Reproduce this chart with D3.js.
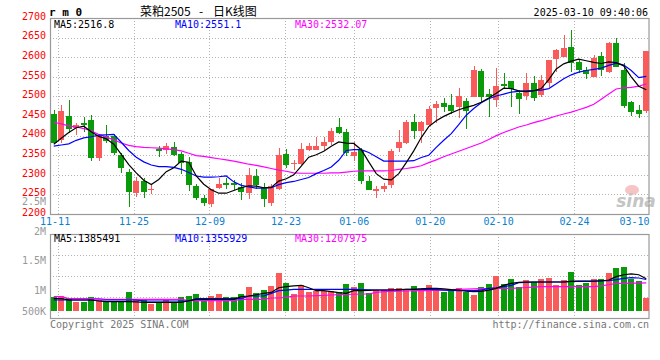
<!DOCTYPE html>
<html><head><meta charset="utf-8">
<script src="https://cdn.jsdelivr.net/npm/d3@7"></script>
<style>body{margin:0;background:#fff}svg{display:block}</style>
</head><body><svg id="c" width="660" height="360"></svg>
<script>
const dates = ["11-08","11-11","11-12","11-13","11-14","11-15","11-18","11-19","11-20","11-21","11-22",
"11-25","11-26","11-27","11-28","11-29","12-02","12-03","12-04","12-05","12-06",
"12-09","12-10","12-11","12-12","12-13","12-16","12-17","12-18","12-19","12-20",
"12-23","12-24","12-25","12-26","12-27","12-30","12-31","01-02","01-03",
"01-06","01-07","01-08","01-09","01-10","01-13","01-14","01-15","01-16","01-17",
"01-20","01-21","01-22","01-23","01-24","01-27","02-05","02-06","02-07",
"02-10","02-11","02-12","02-13","02-14","02-17","02-18","02-19","02-20","02-21",
"02-24","02-25","02-26","02-27","02-28","03-03","03-04","03-05","03-06","03-07","03-10"];
const open  = [2455,2389,2450,2420,2432,2440,2344,2398,2399,2350,2307,2254,2285,2261,2367,2363,2370,2352,2333,2271,2241,2225,2266,2280,2278,2268,2254,2297,2270,2227,2263,2353,2327,2327,2362,2364,2373,2384,2421,2408,2348,2363,2285,2259,2263,2274,2368,2380,2434,2412,2427,2471,2483,2478,2474,2488,2499,2565,2505,2491,2531,2539,2508,2500,2533,2503,2533,2595,2601,2627,2587,2567,2550,2604,2561,2637,2567,2485,2465,2463];
const high  = [2465,2478,2491,2432,2448,2452,2404,2427,2405,2356,2314,2295,2291,2276,2373,2380,2384,2358,2345,2277,2248,2264,2291,2293,2288,2278,2317,2316,2278,2277,2368,2367,2337,2382,2382,2397,2396,2419,2444,2418,2384,2369,2297,2271,2279,2365,2414,2441,2454,2436,2475,2487,2495,2507,2522,2495,2578,2569,2519,2573,2559,2540,2516,2560,2552,2555,2594,2621,2657,2669,2592,2575,2606,2612,2640,2650,2584,2487,2478,2616];
const low   = [2378,2382,2406,2402,2410,2335,2334,2380,2350,2305,2219,2244,2242,2251,2346,2353,2349,2302,2258,2235,2220,2217,2264,2264,2262,2236,2239,2264,2219,2221,2261,2317,2312,2326,2360,2362,2363,2376,2405,2348,2336,2276,2260,2241,2257,2266,2359,2378,2391,2381,2425,2431,2459,2456,2446,2417,2498,2485,2448,2474,2519,2474,2456,2490,2488,2498,2525,2563,2600,2561,2560,2544,2549,2552,2560,2575,2471,2451,2446,2457];
const close = [2381,2463,2418,2428,2430,2342,2399,2387,2356,2317,2255,2285,2257,2264,2360,2373,2351,2331,2274,2240,2228,2263,2276,2275,2274,2257,2300,2273,2238,2271,2350,2325,2331,2366,2374,2373,2384,2412,2406,2356,2359,2285,2262,2263,2271,2360,2384,2434,2413,2434,2469,2481,2474,2463,2500,2464,2567,2499,2498,2527,2527,2519,2494,2533,2497,2542,2593,2618,2624,2584,2568,2556,2599,2567,2637,2576,2476,2461,2456,2615];
const volume = [602000,624000,538000,366000,400000,589000,473000,387000,387000,387000,817000,495000,473000,301000,357000,460000,331000,589000,645000,731000,546000,645000,731000,589000,589000,731000,1045000,787000,903000,1075000,1647000,1217000,731000,1105000,830000,873000,860000,860000,796000,1161000,1045000,1217000,774000,882000,882000,998000,998000,946000,1075000,989000,1118000,933000,817000,903000,989000,817000,688000,1032000,1161000,1505000,1161000,1376000,1032000,1333000,1247000,1376000,1419000,1118000,1333000,1677000,1118000,1204000,1376000,1376000,1634000,1849000,1892000,1376000,1290000,559000];
const ma5  = [2378,2393,2408,2420,2424,2410,2398,2392,2378,2352,2326,2305,2286,2275,2288,2308,2318,2335,2332,2297,2276,2262,2253,2253,2260,2267,2272,2271,2267,2268,2284,2290,2300,2322,2345,2351,2360,2373,2384,2381,2380,2364,2333,2303,2289,2287,2303,2331,2361,2395,2423,2438,2449,2458,2466,2472,2477,2485,2496,2508,2521,2520,2514,2512,2514,2520,2543,2570,2583,2590,2595,2591,2587,2584,2588,2586,2578,2550,2526,2516.8];
const ma10 = [2373,2376,2379,2388,2394,2397,2401,2402,2403,2383,2362,2345,2333,2325,2321,2321,2319,2314,2306,2297,2294,2294,2295,2297,2282,2273,2269,2266,2266,2267,2275,2280,2283,2288,2293,2303,2311,2320,2337,2362,2364,2364,2357,2346,2335,2335,2335,2335,2336,2344,2350,2370,2388,2405,2428,2452,2469,2484,2494,2501,2506,2511,2513,2514,2515,2516,2520,2532,2545,2555,2562,2566,2569,2572,2579,2585,2580,2566,2548,2551.1];
const ma30 = [2434,2430,2425,2422,2418,2412,2403,2396,2389,2381,2375,2372,2370,2369,2368,2366,2364,2361,2355,2349,2347,2344,2341,2338,2335,2331,2327,2324,2320,2316,2312,2309,2305,2304,2304,2304,2304,2305,2305,2307,2309,2310,2310,2310,2310,2311,2314,2316,2319,2323,2331,2338,2346,2353,2360,2367,2374,2381,2390,2400,2408,2415,2422,2427,2433,2438,2444,2450,2455,2460,2466,2472,2480,2493,2506,2519,2522,2523,2526,2532.07];
const vma5  = [529000,529000,480000,473000,473000,473000,430000,400000,400000,400000,400000,390000,374000,374000,374000,374000,374000,374000,440000,503000,503000,503000,503000,503000,503000,620000,645000,700000,761000,800000,1000000,1045000,1080000,1105000,1000000,873000,873000,830000,790000,761000,873000,880000,890000,903000,903000,903000,915000,930000,933000,950000,976000,976000,950000,920000,903000,850000,830000,847000,900000,976000,1100000,1191000,1230000,1247000,1247000,1247000,1247000,1247000,1247000,1270000,1290000,1290000,1290000,1290000,1333000,1480000,1560000,1600000,1560000,1385491];
const vma10 = [473000,473000,473000,473000,473000,473000,473000,473000,473000,473000,473000,473000,430000,430000,430000,430000,430000,430000,430000,529000,529000,529000,529000,529000,529000,529000,645000,645000,645000,760000,873000,900000,933000,933000,933000,933000,933000,933000,933000,933000,933000,920000,910000,903000,903000,903000,903000,933000,933000,933000,933000,920000,900000,890000,880000,873000,873000,900000,976000,1000000,1045000,1100000,1217000,1230000,1247000,1247000,1247000,1247000,1247000,1270000,1270000,1270000,1270000,1303000,1303000,1350000,1406000,1432000,1420000,1355929];
const vma30 = [615000,615000,529000,529000,529000,529000,529000,503000,503000,503000,503000,503000,503000,503000,503000,503000,503000,503000,443000,443000,443000,443000,443000,443000,443000,503000,503000,503000,503000,560000,560000,589000,645000,645000,645000,660000,670000,688000,700000,710000,720000,731000,731000,800000,830000,840000,850000,860000,873000,873000,880000,900000,910000,920000,933000,940000,950000,959000,965000,970000,976000,976000,990000,1010000,1030000,1045000,1045000,1045000,1045000,1045000,1045000,1045000,1045000,1080000,1130000,1191000,1191000,1195000,1200000,1207975];
const priceTicks = [2200,2250,2300,2350,2400,2450,2500,2550,2600,2650,2700];
const dateTicks = ["11-11","11-25","12-09","12-23","01-06","01-20","02-10","02-24","03-10"];
const volTickValues = [500000,1000000,1500000,2000000,2500000];
const volTickLabels = ["500K","1M","1.5M","2M","2.5M"];

const svg = d3.select("#c");
const MONO = "'DejaVu Sans Mono', monospace";
const CJK = "'Noto Sans CJK SC', sans-serif";
const RED = "#f95a5a", GREEN = "#0a9a0a";
const L = 50, R = 650, T = 18, B = 214, VT = 234, VB = 318, VBASE = 311;
const n = dates.length;
const x = d3.scaleBand().domain(d3.range(n)).range([L, R]).paddingInner(0.2).paddingOuter(0.1);
const cx = i => x(i) + x.bandwidth() / 2;
const xg = d3.scaleLinear().domain([0, n - 1]).range([L, R]);
const y = d3.scaleLinear().domain([2200, 2700]).range([B, T]);
const yv = d3.scaleLinear().domain([0, 3311000]).range([VBASE, VT]);
const yvGrid = d3.scaleLinear().domain([0, 4]).range([VB, VT]);
const yvLab = d3.scaleLinear().domain([1000000, 2500000]).range([290.7, 201.2]);
const tickIdx = dateTicks.map(d => dates.indexOf(d));

const grid = svg.append("g").attr("stroke", "#b4b4b4").attr("stroke-dasharray", "1,2").attr("stroke-width", 1);
priceTicks.slice(1, -1).forEach(p => {
  grid.append("line").attr("x1", L).attr("x2", R).attr("y1", Math.round(y(p)) + 0.5).attr("y2", Math.round(y(p)) + 0.5);
});
[1, 2, 3].forEach(k => {
  grid.append("line").attr("x1", L).attr("x2", R).attr("y1", Math.round(yvGrid(k)) + 0.5).attr("y2", Math.round(yvGrid(k)) + 0.5);
});
tickIdx.slice(0, -1).forEach(i => {
  const gx = Math.round(xg(i)) + 0.5;
  grid.append("line").attr("x1", gx).attr("x2", gx).attr("y1", T).attr("y2", B);
  grid.append("line").attr("x1", gx).attr("x2", gx).attr("y1", VT).attr("y2", VB);
});

// sina watermark
const wm = svg.append("g");
wm.append("ellipse").attr("cx", 632).attr("cy", 190).attr("rx", 7).attr("ry", 5).attr("fill", "#f6c4c4");
wm.append("text").attr("x", 636).attr("y", 207).attr("text-anchor", "middle")
  .attr("font-family", "'DejaVu Sans', sans-serif").attr("font-size", 17).attr("font-weight", "bold")
  .attr("font-style", "italic").attr("fill", "#c4c4c4").text("sina");

// frames
const frame = svg.append("g").attr("fill", "none").attr("stroke", "#999").attr("stroke-width", 1.2);
frame.append("rect").attr("x", L + 0.5).attr("y", T + 0.5).attr("width", R - L - 1.5).attr("height", B - T);
frame.append("rect").attr("x", L + 0.5).attr("y", VT + 0.5).attr("width", R - L - 1.5).attr("height", VB - VT);

// candles
const idx = d3.range(n);
const cg = svg.append("g").attr("shape-rendering", "crispEdges");
cg.selectAll("line.w").data(idx).join("line")
  .attr("x1", i => Math.round(cx(i)) + 0.5).attr("x2", i => Math.round(cx(i)) + 0.5)
  .attr("y1", i => y(high[i])).attr("y2", i => y(low[i]))
  .attr("stroke", i => close[i] >= open[i] ? RED : GREEN);
cg.selectAll("rect.b").data(idx).join("rect")
  .attr("x", i => Math.round(x(i))).attr("width", Math.round(x.bandwidth()))
  .attr("y", i => y(Math.max(open[i], close[i])))
  .attr("height", i => Math.max(1.5, Math.abs(y(open[i]) - y(close[i]))))
  .attr("fill", i => close[i] >= open[i] ? RED : GREEN);

const line = arr => d3.line().x((d, i) => cx(i)).y(d => y(d))(arr);
[[ma30, "#ff00ff"], [ma10, "#0000ff"], [ma5, "#000"]].forEach(([a, c]) => {
  svg.append("path").attr("d", line(a)).attr("fill", "none").attr("stroke", c).attr("stroke-width", 1.2);
});

// volume
const vg = svg.append("g").attr("shape-rendering", "crispEdges");
vg.selectAll("rect").data(idx).join("rect")
  .attr("x", i => Math.round(x(i))).attr("width", Math.round(x.bandwidth()))
  .attr("y", i => yv(volume[i])).attr("height", i => VBASE - yv(volume[i]))
  .attr("fill", i => close[i] >= open[i] ? RED : GREEN);
const vline = arr => d3.line().x((d, i) => cx(i)).y(d => yv(d))(arr);
[[vma30, "#ff00ff"], [vma10, "#0000ff"], [vma5, "#000"]].forEach(([a, c]) => {
  svg.append("path").attr("d", vline(a)).attr("fill", "none").attr("stroke", c).attr("stroke-width", 1.2);
});

// price axis
const ya = svg.append("g").attr("transform", `translate(${L - 1},0)`)
  .call(d3.axisLeft(y).tickValues(priceTicks).tickSize(0).tickPadding(3).tickFormat(d3.format("d")));
ya.select(".domain").remove();
ya.selectAll("text").attr("fill", "#f00").attr("font-family", MONO).attr("font-size", 10).attr("dy", "0.12em");

// date axis
const xa = svg.append("g").attr("transform", `translate(0,${B})`)
  .call(d3.axisBottom(xg).tickValues(tickIdx).tickSize(0).tickPadding(4).tickFormat(i => dates[i]));
xa.select(".domain").remove();
xa.selectAll("text").attr("fill", "#0a80d0").attr("font-family", MONO).attr("font-size", 10);
xa.selectAll("text").filter((d, k) => k === 0).attr("x", -3);
xa.selectAll("text").filter((d, k) => k === tickIdx.length - 1).attr("text-anchor", "end").attr("x", -1);

// volume axis labels
svg.append("g").selectAll("text").data(volTickValues).join("text")
  .attr("x", L - 4).attr("y", d => Math.min(yvLab(d), VBASE)).attr("dy", "0.35em")
  .attr("text-anchor", "end").attr("font-family", MONO).attr("font-size", 10).attr("fill", "#999")
  .text((d, k) => volTickLabels[k]);

// legends
const legend = (yy, items) => items.forEach(([tx, xx, c]) => {
  svg.append("text").attr("x", xx).attr("y", yy).attr("font-family", MONO).attr("font-size", 10).attr("fill", c).text(tx);
});
legend(27.5, [["MA5:" + ma5[n - 1], 54, "#000"], ["MA10:" + ma10[n - 1], 175, "#0000ff"], ["MA30:" + ma30[n - 1], 295, "#ff00ff"]]);
legend(242, [["MA5:" + vma5[n - 1], 54, "#000"], ["MA10:" + vma10[n - 1], 175, "#0000ff"], ["MA30:" + vma30[n - 1], 295, "#ff00ff"]]);

// header
svg.append("text").attr("x", 49).attr("y", 16).attr("font-family", MONO).attr("font-size", 11)
  .attr("font-weight", "bold").attr("fill", "#000").text("r m 0");
const title = svg.append("text").attr("y", 16).attr("font-family", CJK).attr("font-size", 12).attr("fill", "#000");
title.append("tspan").attr("x", 140).text("菜粕2505");
title.append("tspan").attr("x", 199).text("-");
title.append("tspan").attr("x", 213).text("日K线图");
svg.append("text").attr("x", 648).attr("y", 15.5).attr("text-anchor", "end").attr("font-family", MONO)
  .attr("font-size", 10).attr("fill", "#000").text("2025-03-10 09:40:06");

// footer
svg.append("text").attr("x", 50).attr("y", 327.5).attr("font-family", MONO).attr("font-size", 10)
  .attr("fill", "#777").text("Copyright 2025 SINA.COM");
svg.append("text").attr("x", 649).attr("y", 327.5).attr("text-anchor", "end").attr("font-family", MONO)
  .attr("font-size", 10).attr("fill", "#777").text("http://finance.sina.com.cn");
</script></body></html>
